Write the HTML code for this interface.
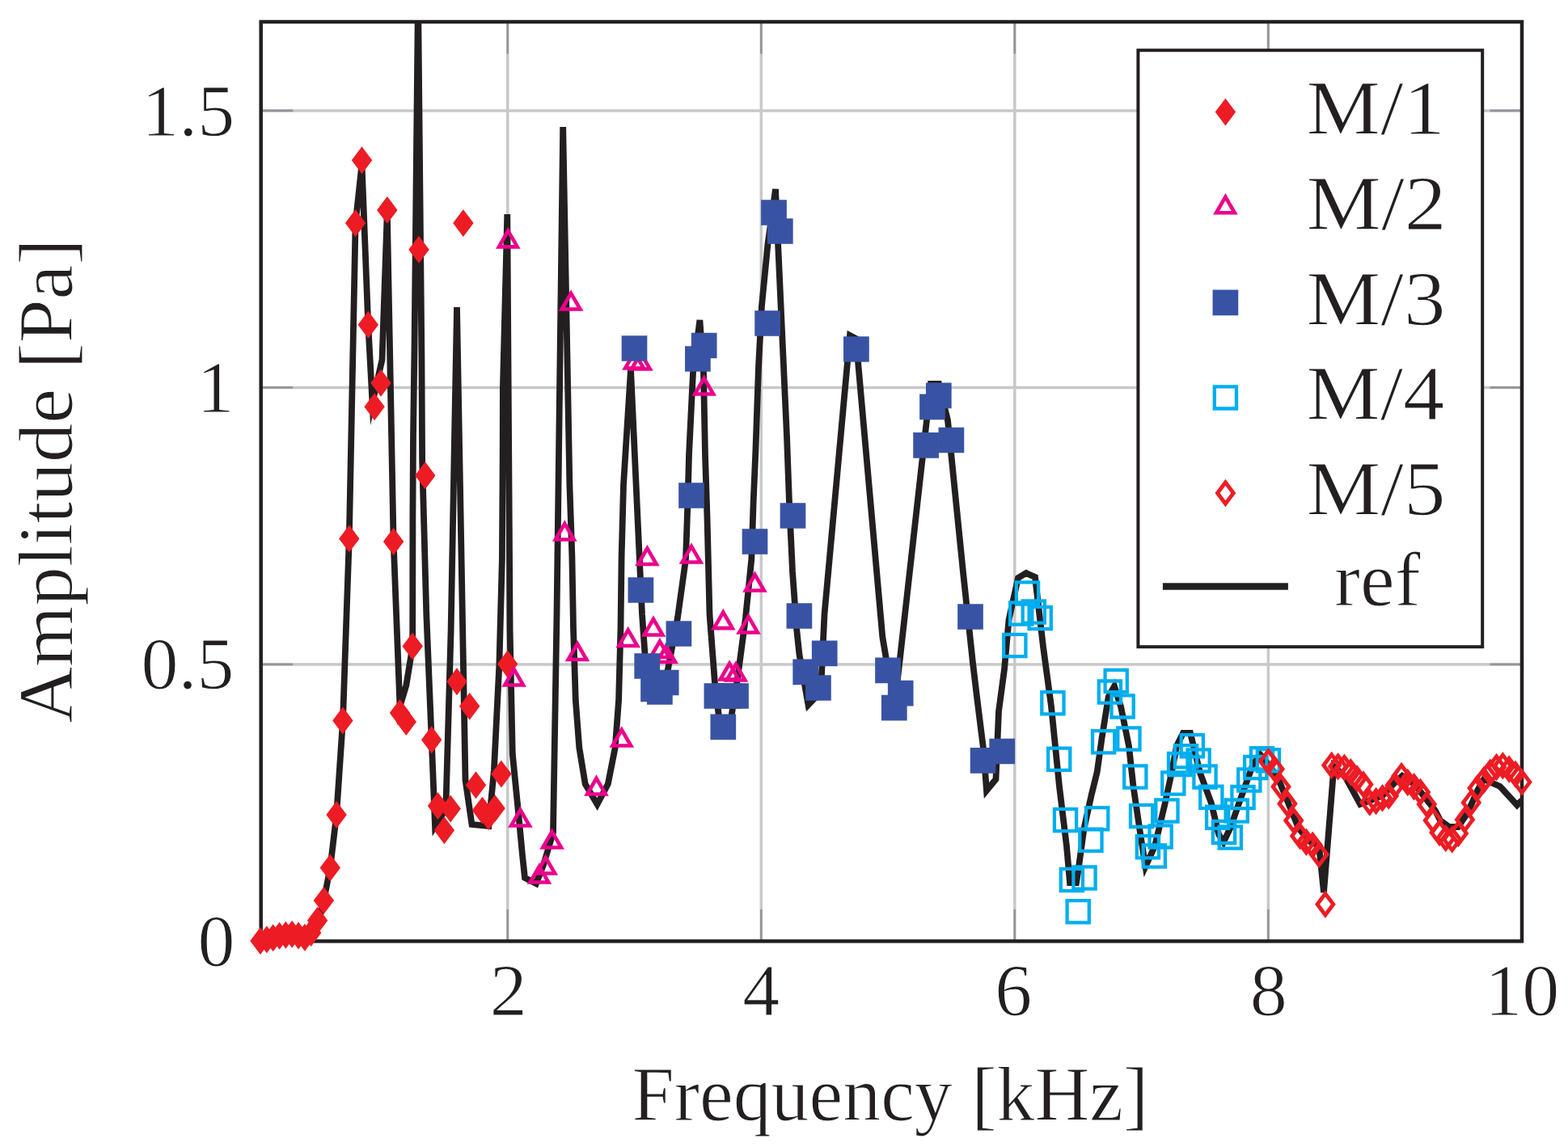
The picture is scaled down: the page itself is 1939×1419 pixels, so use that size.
<!DOCTYPE html><html><head><meta charset="utf-8"><title>Amplitude vs Frequency</title>
<style>html,body{margin:0;padding:0;background:#fff;}svg{display:block;}</style></head><body>
<svg width="1939" height="1419" viewBox="0 0 1939 1419">
<defs>
<clipPath id="ax"><rect x="322.7" y="27.0" width="1559.3" height="1137.4"/></clipPath>
<path id="dia" d="M0,-13.6L10.2,0L0,13.6L-10.2,0Z"/>
<path id="dia5" d="M0,-13.2L9.9,0L0,13.2L-9.9,0Z"/>
<path id="tri" d="M0,-13.13L11.37,6.565L-11.37,6.565Z"/>
<path id="sq" d="M-13.85,-13.85H13.85V13.85H-13.85Z"/>
<path id="sq4" d="M-13.6,-13.6H13.6V13.6H-13.6Z"/>
</defs>
<rect width="1939" height="1419" fill="#fff"/>
<path d="M627.74,27.0V1164.4M941.28,27.0V1164.4M1254.82,27.0V1164.4M1568.36,27.0V1164.4M322.7,821.9H1882.0M322.7,479.4H1882.0M322.7,136.9H1882.0" stroke="#C7C8CA" stroke-width="3.5" fill="none"/>
<path d="M627.74,1164.4V1124.9M627.74,27.0V66.5M941.28,1164.4V1124.9M941.28,27.0V66.5M1254.82,1164.4V1124.9M1254.82,27.0V66.5M1568.36,1164.4V1124.9M1568.36,27.0V66.5M322.7,821.9H362.2M1882.0,821.9H1842.5M322.7,479.4H362.2M1882.0,479.4H1842.5M322.7,136.9H362.2M1882.0,136.9H1842.5" stroke="#939598" stroke-width="2.6" fill="none"/>
<rect x="322.7" y="27.0" width="1559.3" height="1137.4" fill="none" stroke="#231F20" stroke-width="4.5"/>
<polyline clip-path="url(#ax)" points="322,1163 330,1163 338,1163 345.5,1162 353.4,1162 361.2,1162 369,1162 377,1161 384.7,1157 392.6,1145 400.4,1114 408.3,1074 416.1,1008 424,891 431.8,666 439.6,276 447.5,203 455.3,402 460.5,498 472.5,445 478.8,262 486.6,670 494.5,874 502.3,848 510.2,800 510.4,640 511,540 512.5,430 517,-8 521.4,440 522.1,569 527.3,760 533.7,915 538,1022 548,1006 551.7,987 557.6,780 565,380 575.5,965 583.5,1020 604.3,1022 610.9,953 617.4,822 620.9,691 621.7,560 621.9,480 627.3,265 628.7,480 630.6,780 633.8,933 641.2,1007 646,1058 649,1086 663,1093 672,1070 684,1030 688.5,760 696.2,157 704.4,600 707.4,689 709,777 711.8,866 716.3,925 723.7,970 738.5,995 751.8,970 760.7,925 765.1,866 767.5,777 768.6,689 771,600 780,457 794,760 797.5,809 801,832 808,852 816,855 826,828 838,764 848,692 850.5,620 852,563 857,461 865.4,396 870,461 872,563 874.5,640 877.5,760 884,845 890,895 903,895 912.5,836 922,764 929.3,692 931.7,620 934.3,560 938,454 942,378 949.5,301.5 959,234 973,540 976,622 980,707 985.3,780 988.5,810 999.5,872 1011,860 1016,835 1019.5,760 1051,415 1058.5,419 1091.3,788 1100,840 1110,840 1113,814 1151,475 1161,475 1172,520 1191,708 1203,820 1208,862 1216,926 1220,978 1231.5,964 1235,880 1242,828 1247.5,767 1259,715 1269,709 1280,714 1290,800 1300,874 1310,973 1319,1047 1323,1092 1331,1092 1333.5,1076 1340.5,1025 1349.8,983 1356.7,955 1362.6,913 1370.7,862 1378,849 1386,874 1396,923 1401.5,973 1410.5,1034 1416.5,1072 1428,1047 1440,997 1448,960 1455,923 1463,907 1472,907 1484,956 1498,994 1507,1032 1513,1042 1522,1023 1532,994 1541,969 1549,947 1558,933 1572,950 1583,969 1595,998 1606,1025 1621,1042 1631,1046 1637,1104 1649.5,948 1664,962 1682,995 1695,990 1710,984 1725,968 1734,960 1749,970 1764,989 1775,1003 1781,1015 1792,1023 1803,1023 1812,1010 1820,994 1827,978 1835,964 1846,969 1855,973 1876,996 1882,990" fill="none" stroke="#231F20" stroke-width="7.8" stroke-linejoin="miter" stroke-miterlimit="10"/>
<g fill="#ED1C24" stroke="#ED1C24" stroke-width="4" stroke-linejoin="miter"><use href="#dia" x="322.0" y="1164.0"/><use href="#dia" x="329.9" y="1162.3"/><use href="#dia" x="337.7" y="1160.2"/><use href="#dia" x="345.6" y="1157.8"/><use href="#dia" x="353.4" y="1156.8"/><use href="#dia" x="361.2" y="1155.8"/><use href="#dia" x="369.1" y="1157.5"/><use href="#dia" x="376.9" y="1159.8"/><use href="#dia" x="384.7" y="1154.0"/><use href="#dia" x="392.6" y="1138.8"/><use href="#dia" x="400.4" y="1114.0"/><use href="#dia" x="408.3" y="1073.6"/><use href="#dia" x="416.1" y="1008.0"/><use href="#dia" x="423.9" y="891.5"/><use href="#dia" x="431.8" y="666.4"/><use href="#dia" x="439.6" y="276.0"/><use href="#dia" x="447.5" y="198.3"/><use href="#dia" x="455.3" y="401.7"/><use href="#dia" x="463.1" y="503.2"/><use href="#dia" x="471.0" y="473.8"/><use href="#dia" x="478.8" y="259.9"/><use href="#dia" x="486.6" y="670.0"/><use href="#dia" x="494.5" y="882.0"/><use href="#dia" x="502.3" y="893.0"/><use href="#dia" x="510.2" y="799.5"/><use href="#dia" x="518.0" y="308.8"/><use href="#dia" x="525.8" y="588.2"/><use href="#dia" x="533.7" y="915.2"/><use href="#dia" x="541.5" y="997.0"/><use href="#dia" x="549.4" y="1027.3"/><use href="#dia" x="557.2" y="1000.5"/><use href="#dia" x="565.0" y="843.3"/><use href="#dia" x="572.9" y="276.0"/><use href="#dia" x="580.7" y="873.8"/><use href="#dia" x="588.5" y="971.2"/><use href="#dia" x="596.4" y="1002.6"/><use href="#dia" x="604.2" y="1010.0"/><use href="#dia" x="612.1" y="1000.0"/><use href="#dia" x="619.9" y="957.5"/><use href="#dia" x="627.7" y="821.5"/></g>
<g fill="none" stroke="#EC008C" stroke-width="4.6" stroke-linejoin="miter"><use href="#tri" x="628.3" y="298.8"/><use href="#tri" x="635.6" y="841.0"/><use href="#tri" x="643.4" y="1015.0"/><use href="#tri" x="666.9" y="1085.0"/><use href="#tri" x="674.8" y="1074.0"/><use href="#tri" x="682.6" y="1042.0"/><use href="#tri" x="698.3" y="661.0"/><use href="#tri" x="706.1" y="376.0"/><use href="#tri" x="714.0" y="809.5"/><use href="#tri" x="737.5" y="976.0"/><use href="#tri" x="768.8" y="916.0"/><use href="#tri" x="776.7" y="792.5"/><use href="#tri" x="784.5" y="449.0"/><use href="#tri" x="792.4" y="450.0"/><use href="#tri" x="800.4" y="691.5"/><use href="#tri" x="808.0" y="779.0"/><use href="#tri" x="815.9" y="806.5"/><use href="#tri" x="823.7" y="812.5"/><use href="#tri" x="855.0" y="689.0"/><use href="#tri" x="870.7" y="481.0"/><use href="#tri" x="894.3" y="770.6"/><use href="#tri" x="902.1" y="834.0"/><use href="#tri" x="910.0" y="835.0"/><use href="#tri" x="925.6" y="776.0"/><use href="#tri" x="933.5" y="724.0"/></g>
<g fill="#3953A4" stroke="#3953A4" stroke-width="4" stroke-linejoin="miter"><use href="#sq" x="784.5" y="431.0"/><use href="#sq" x="792.4" y="730.0"/><use href="#sq" x="800.2" y="824.0"/><use href="#sq" x="808.0" y="852.4"/><use href="#sq" x="815.9" y="856.0"/><use href="#sq" x="823.7" y="844.5"/><use href="#sq" x="839.4" y="784.0"/><use href="#sq" x="855.0" y="613.0"/><use href="#sq" x="862.9" y="444.0"/><use href="#sq" x="870.7" y="427.5"/><use href="#sq" x="886.4" y="861.0"/><use href="#sq" x="902.1" y="861.0"/><use href="#sq" x="910.0" y="861.0"/><use href="#sq" x="894.3" y="899.4"/><use href="#sq" x="933.5" y="670.0"/><use href="#sq" x="949.1" y="400.0"/><use href="#sq" x="957.0" y="263.0"/><use href="#sq" x="964.8" y="286.0"/><use href="#sq" x="980.5" y="638.0"/><use href="#sq" x="988.4" y="762.0"/><use href="#sq" x="996.2" y="831.4"/><use href="#sq" x="1011.9" y="851.0"/><use href="#sq" x="1019.7" y="808.4"/><use href="#sq" x="1058.9" y="432.0"/><use href="#sq" x="1098.0" y="829.3"/><use href="#sq" x="1105.8" y="875.7"/><use href="#sq" x="1113.7" y="857.7"/><use href="#sq" x="1145.1" y="550.8"/><use href="#sq" x="1153.0" y="503.3"/><use href="#sq" x="1160.8" y="489.3"/><use href="#sq" x="1176.4" y="544.5"/><use href="#sq" x="1200.0" y="763.0"/><use href="#sq" x="1215.6" y="940.8"/><use href="#sq" x="1239.2" y="929.5"/></g>
<g fill="none" stroke="#00AEEF" stroke-width="4.3" stroke-linejoin="miter"><use href="#sq4" x="1254.8" y="798.5"/><use href="#sq4" x="1262.7" y="759.0"/><use href="#sq4" x="1270.5" y="734.0"/><use href="#sq4" x="1278.3" y="757.0"/><use href="#sq4" x="1286.2" y="764.5"/><use href="#sq4" x="1301.9" y="869.7"/><use href="#sq4" x="1309.7" y="939.3"/><use href="#sq4" x="1317.5" y="1014.5"/><use href="#sq4" x="1325.4" y="1088.5"/><use href="#sq4" x="1333.2" y="1127.8"/><use href="#sq4" x="1341.0" y="1086.0"/><use href="#sq4" x="1348.9" y="1039.3"/><use href="#sq4" x="1356.7" y="1012.7"/><use href="#sq4" x="1364.6" y="917.8"/><use href="#sq4" x="1372.4" y="856.1"/><use href="#sq4" x="1380.2" y="842.5"/><use href="#sq4" x="1388.1" y="873.9"/><use href="#sq4" x="1395.9" y="914.0"/><use href="#sq4" x="1403.8" y="961.0"/><use href="#sq4" x="1411.6" y="1009.4"/><use href="#sq4" x="1419.4" y="1047.8"/><use href="#sq4" x="1427.3" y="1059.0"/><use href="#sq4" x="1435.1" y="1034.9"/><use href="#sq4" x="1442.9" y="1003.0"/><use href="#sq4" x="1450.8" y="969.0"/><use href="#sq4" x="1458.6" y="945.6"/><use href="#sq4" x="1466.5" y="935.8"/><use href="#sq4" x="1474.3" y="922.7"/><use href="#sq4" x="1482.1" y="940.9"/><use href="#sq4" x="1490.0" y="960.9"/><use href="#sq4" x="1497.8" y="986.2"/><use href="#sq4" x="1505.7" y="1011.3"/><use href="#sq4" x="1513.5" y="1029.4"/><use href="#sq4" x="1521.3" y="1036.0"/><use href="#sq4" x="1529.2" y="1003.1"/><use href="#sq4" x="1537.0" y="986.6"/><use href="#sq4" x="1544.8" y="965.0"/><use href="#sq4" x="1552.7" y="949.5"/><use href="#sq4" x="1560.5" y="938.8"/><use href="#sq4" x="1568.4" y="940.7"/></g>
<g fill="none" stroke="#ED1C24" stroke-width="4.8" stroke-linejoin="miter"><use href="#dia5" x="1568.4" y="942.0"/><use href="#dia5" x="1576.2" y="951.4"/><use href="#dia5" x="1584.0" y="973.3"/><use href="#dia5" x="1591.9" y="994.2"/><use href="#dia5" x="1599.7" y="1015.1"/><use href="#dia5" x="1607.6" y="1034.2"/><use href="#dia5" x="1615.4" y="1041.8"/><use href="#dia5" x="1623.2" y="1045.6"/><use href="#dia5" x="1631.1" y="1057.0"/><use href="#dia5" x="1638.9" y="1118.8"/><use href="#dia5" x="1646.7" y="946.8"/><use href="#dia5" x="1654.6" y="948.2"/><use href="#dia5" x="1662.4" y="949.6"/><use href="#dia5" x="1670.3" y="955.2"/><use href="#dia5" x="1678.1" y="963.5"/><use href="#dia5" x="1685.9" y="970.5"/><use href="#dia5" x="1693.8" y="992.5"/><use href="#dia5" x="1701.6" y="991.0"/><use href="#dia5" x="1709.5" y="987.2"/><use href="#dia5" x="1717.3" y="984.5"/><use href="#dia5" x="1725.1" y="971.6"/><use href="#dia5" x="1733.0" y="960.0"/><use href="#dia5" x="1740.8" y="968.0"/><use href="#dia5" x="1748.6" y="973.2"/><use href="#dia5" x="1756.5" y="980.0"/><use href="#dia5" x="1764.3" y="995.0"/><use href="#dia5" x="1772.2" y="1015.0"/><use href="#dia5" x="1780.0" y="1030.0"/><use href="#dia5" x="1787.8" y="1037.0"/><use href="#dia5" x="1795.7" y="1038.6"/><use href="#dia5" x="1803.5" y="1031.0"/><use href="#dia5" x="1811.4" y="1014.0"/><use href="#dia5" x="1819.2" y="993.0"/><use href="#dia5" x="1827.0" y="975.0"/><use href="#dia5" x="1834.9" y="965.0"/><use href="#dia5" x="1842.7" y="955.7"/><use href="#dia5" x="1850.5" y="949.0"/><use href="#dia5" x="1858.4" y="947.3"/><use href="#dia5" x="1866.2" y="951.5"/><use href="#dia5" x="1874.1" y="957.8"/><use href="#dia5" x="1881.9" y="967.6"/></g>
<rect x="1407.4" y="62.2" width="425.8" height="738" fill="#fff" stroke="#231F20" stroke-width="4"/>
<g fill="#ED1C24" stroke="#ED1C24" stroke-width="4" stroke-linejoin="miter"><use href="#dia" x="1515.4" y="138.6"/></g>
<g fill="none" stroke="#EC008C" stroke-width="4.6" stroke-linejoin="miter"><use href="#tri" x="1515.4" y="256.7"/></g>
<g fill="#3953A4" stroke="#3953A4" stroke-width="4" stroke-linejoin="miter"><use href="#sq" x="1515.4" y="374.4"/></g>
<g fill="none" stroke="#00AEEF" stroke-width="4.3" stroke-linejoin="miter"><use href="#sq4" x="1515.4" y="491.9"/></g>
<g fill="none" stroke="#ED1C24" stroke-width="4.8" stroke-linejoin="miter"><use href="#dia5" x="1515.4" y="610.0"/></g>
<path d="M1437.9,725.5H1592.9" stroke="#231F20" stroke-width="8.5"/>
<g font-family='"Liberation Serif", "DejaVu Serif", serif' fill="#231F20" stroke="#fff" stroke-width="1.1"><text x="1615.6" y="166" font-size="94.8" textLength="171.3" lengthAdjust="spacingAndGlyphs">M/1</text><text x="1615.6" y="283.8" font-size="94.8" textLength="173.1" lengthAdjust="spacingAndGlyphs">M/2</text><text x="1615.6" y="401.6" font-size="94.8" textLength="171.9" lengthAdjust="spacingAndGlyphs">M/3</text><text x="1615.6" y="519.2" font-size="94.8" textLength="170.7" lengthAdjust="spacingAndGlyphs">M/4</text><text x="1615.6" y="636.5" font-size="94.8" textLength="171.9" lengthAdjust="spacingAndGlyphs">M/5</text><text x="1650.1" y="749.3" font-size="94.8" textLength="106.5" lengthAdjust="spacingAndGlyphs">ref</text><text x="605.85" y="1255.5" font-size="92">2</text><text x="918.3" y="1255.5" font-size="92">4</text><text x="1230.15" y="1255.5" font-size="92">6</text><text x="1545.85" y="1255.5" font-size="92">8</text><text x="1836.3" y="1255.5" font-size="92">10</text><text x="244.5" y="1195" font-size="92">0</text><text x="174.5" y="852.2" font-size="92">0.5</text><text x="243.5" y="509.6" font-size="92">1</text><text x="175.2" y="167.6" font-size="92">1.5</text><text x="781.5" y="1385.8" font-size="94.8" textLength="638.7" lengthAdjust="spacingAndGlyphs">Frequency [kHz]</text><text transform="translate(88.8,894.8) rotate(-90)" x="0" y="0" font-size="94.8" textLength="599.6" lengthAdjust="spacingAndGlyphs">Amplitude [Pa]</text></g>
</svg></body></html>
